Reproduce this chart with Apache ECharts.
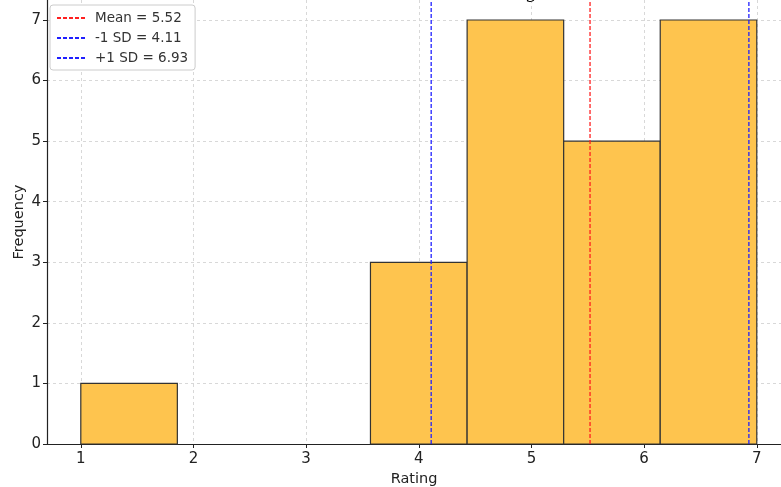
<!DOCTYPE html>
<html><head><meta charset="utf-8">
<script src="https://cdn.jsdelivr.net/npm/echarts@6/dist/echarts.min.js"></script>
<style>html,body{margin:0;padding:0;background:#fff}#c{width:781px;height:487px}</style>
</head><body><div id="c"></div>
<script>
const binEdges = [1, 1.857, 2.714, 3.571, 4.429, 5.286, 6.143, 7];
const counts = [1, 0, 0, 3, 7, 5, 7];
const xTicks = [1, 2, 3, 4, 5, 6, 7];
const yTicks = [0, 1, 2, 3, 4, 5, 6, 7];
const meanVal = 5.52;
const minusSD = 4.11;
const plusSD = 6.93;
const title = 'Distribution of Ratings';

const bins = counts.map((c, i) => [binEdges[i], binEdges[i + 1], c]);
const FONT = 'DejaVu Sans';
const yTop = 7.33;

function vline(name, x, color) {
  return {
    type: 'line', name: name, data: [[x, 0], [x, yTop]],
    symbol: 'none', z: 5, silent: true,
    lineStyle: { color: color, width: 1.3, type: [4, 2] },
    itemStyle: { color: color }
  };
}

const chart = echarts.init(document.getElementById('c'), null, { renderer: 'canvas' });
chart.setOption({
  animation: false,
  backgroundColor: '#fff',
  textStyle: { fontFamily: FONT },
  grid: { left: 47, right: 0, top: 0, bottom: 43, containLabel: false, outerBoundsMode: 'none' },
  graphic: [{
    type: 'text', x: 547, y: 3, z: 100,
    style: { text: title, font: '19px "DejaVu Serif"', fill: '#000', align: 'right', verticalAlign: 'bottom' }
  }],
  legend: {
    orient: 'vertical', left: 50, top: 5,
    data: ['Mean = 5.52', '-1 SD = 4.11', '+1 SD = 6.93'],
    backgroundColor: '#fff', borderColor: '#ccc', borderWidth: 1, borderRadius: 3,
    padding: [6, 7, 5, 6], itemGap: 6, itemWidth: 28, itemHeight: 14,
    itemStyle: { opacity: 0 },
    textStyle: { fontFamily: FONT, fontSize: 13.5, color: '#333', padding: [0, 0, 0, 5] }
  },
  xAxis: {
    type: 'value', min: 0.7, max: 7.215,
    name: 'Rating', nameLocation: 'middle', nameGap: 27,
    nameTextStyle: { fontFamily: FONT, fontSize: 14.5, color: '#222' },
    axisLine: { show: true, onZero: false, lineStyle: { color: '#222', width: 1.2 } },
    axisTick: { show: true, length: 4, customValues: xTicks, lineStyle: { color: '#222' } },
    axisLabel: { customValues: xTicks, fontFamily: FONT, fontSize: 15, color: '#222', margin: 8 },
    splitLine: { show: true, lineStyle: { color: '#d8d8d8', type: [3, 3], width: 1 } }
  },
  yAxis: {
    type: 'value', min: 0, max: yTop,
    name: 'Frequency', nameLocation: 'middle', nameGap: 20, nameMoveOverlap: false,
    nameTextStyle: { fontFamily: FONT, fontSize: 14.5, color: '#222' },
    axisLine: { show: true, lineStyle: { color: '#222', width: 1.2 } },
    axisTick: { show: true, length: 4, customValues: yTicks, lineStyle: { color: '#222' } },
    axisLabel: { customValues: yTicks, fontFamily: FONT, fontSize: 15, color: '#222', margin: 6 },
    splitLine: { show: true, lineStyle: { color: '#d8d8d8', type: [3, 3], width: 1 } }
  },
  series: [
    {
      type: 'custom', name: 'hist', data: bins, z: 2,
      encode: { x: [0, 1], y: 2 },
      renderItem: function (params, api) {
        const p0 = api.coord([api.value(0), 0]);
        const p1 = api.coord([api.value(1), api.value(2)]);
        if (api.value(2) <= 0) return null;
        return {
          type: 'rect',
          shape: { x: p0[0], y: p1[1], width: p1[0] - p0[0], height: p0[1] - p1[1] },
          style: { fill: '#FEC44E', stroke: '#333', lineWidth: 1.2 }
        };
      }
    },
    vline('Mean = 5.52', meanVal, '#ff2020'),
    vline('-1 SD = 4.11', minusSD, '#2020ff'),
    vline('+1 SD = 6.93', plusSD, '#2020ff')
  ]
});
</script></body></html>
